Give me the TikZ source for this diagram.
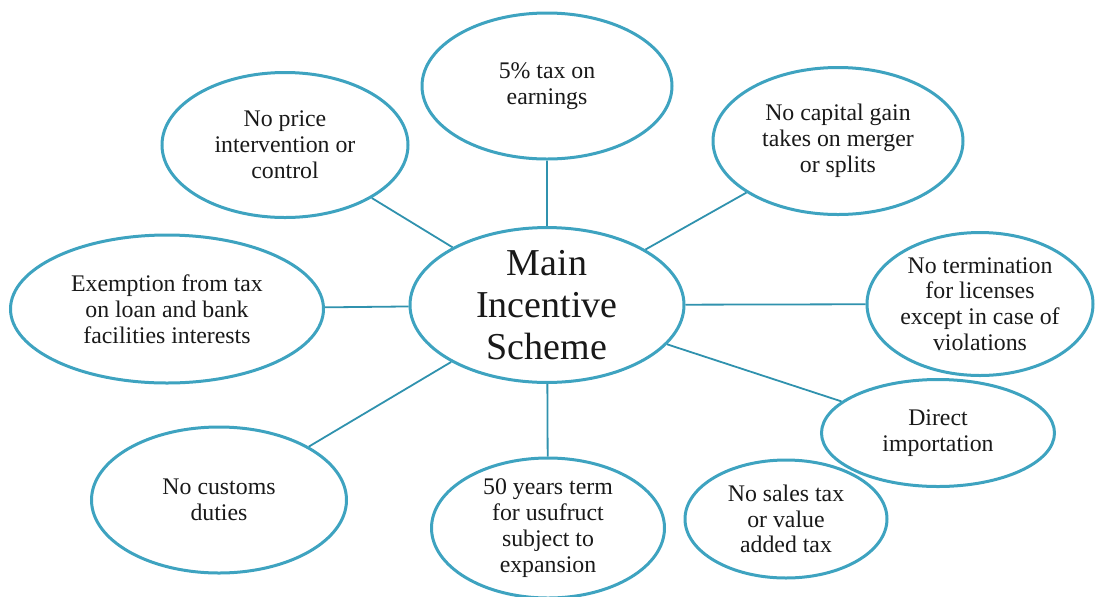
\documentclass[tikz,border=0pt]{standalone}
\usepackage{fontspec}
\newfontfamily\timesfont{Liberation Serif}
\usepackage{xcolor}
\usepackage{tikz}
\usetikzlibrary{shapes.geometric}

\definecolor{rim}{RGB}{62,163,192}
\definecolor{spoke}{RGB}{48,146,174}

\begin{document}
\begin{tikzpicture}[
  x=0.5pt, y=-0.5pt,
  idea/.style={draw=rim, ellipse, line width=1.5pt, fill=white, inner sep=0pt,
               align=center, text=black!90,
               font={\timesfont\fontsize{11.9}{12.9}\selectfont}},
  hubnode/.style={idea, font={\timesfont\fontsize{19}{21}\selectfont}},
  link/.style={draw=spoke, line width=0.9pt}
]
  \useasboundingbox (0,0) rectangle (1099,596);

  % centre of the scheme
  \node[hubnode, minimum width=137pt, minimum height=77pt] (hub) at (547,305)
    {Main\\Incentive\\Scheme};

  % incentives round it
  \node[idea, minimum width=125pt, minimum height=73pt] (earn) at (547,86)
    {5\% tax on\\earnings};
  \node[idea, minimum width=123pt, minimum height=72.5pt] (price) at (285,145)
    {No price\\intervention or\\control};
  \node[idea, minimum width=125pt, minimum height=73.5pt] (gain) at (838,141)
    {No capital gain\\takes on merger\\or splits};
  \node[idea, minimum width=156.5pt, minimum height=74pt] (exempt) at (167,309)
    {Exemption from tax\\on loan and bank\\facilities interests};
  \node[idea, minimum width=113pt, minimum height=71.5pt] (licence) at (980,304)
    {No termination\\for licenses\\except in case of\\violations};
  \node[idea, minimum width=116.5pt, minimum height=53.5pt] (import) at (938,433)
    {Direct\\importation};
  \node[idea, minimum width=127.5pt, minimum height=73pt] (customs) at (219,500)
    {No customs\\duties};
  \node[idea, minimum width=116.5pt, minimum height=70pt] (usufruct) at (548,528)
    {50 years term\\for usufruct\\subject to\\expansion};
  \node[idea, minimum width=101pt, minimum height=59pt] (sales) at (786,519)
    {No sales tax\\or value\\added tax};

  % spokes
  \draw[link] (hub) -- (earn);
  \draw[link] (hub) -- (price);
  \draw[link] (hub) -- (gain);
  \draw[link] (hub) -- (exempt);
  \draw[link] (hub) -- (licence);
  \draw[link] (hub) -- (import);
  \draw[link] (hub) -- (customs);
  \draw[link] (hub) -- (usufruct);
\end{tikzpicture}
\end{document}
